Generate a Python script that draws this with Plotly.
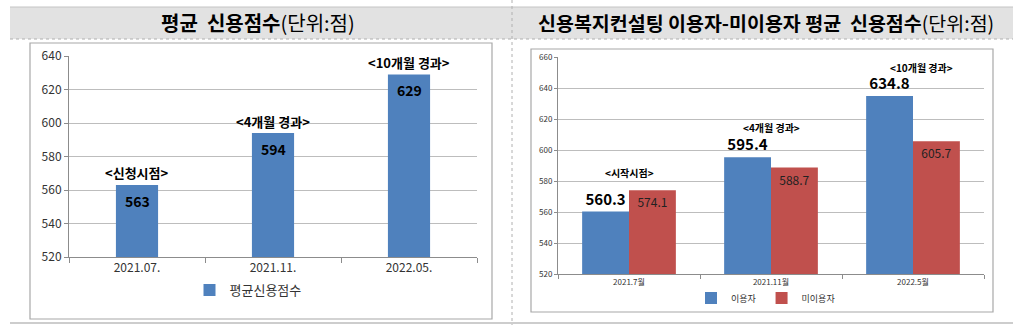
import plotly.graph_objects as go

# ---- data -------------------------------------------------------------
left_categories = ["2021.07.", "2021.11.", "2022.05."]
left_scores = [563, 594, 629]
left_notes = ["<신청시점>", "<4개월 경과>", "<10개월 경과>"]
left_series_name = "평균신용점수"

right_categories = ["2021.7월", "2021.11월", "2022.5월"]
users_scores = [560.3, 595.4, 634.8]
nonusers_scores = [574.1, 588.7, 605.7]
right_notes = ["<시작시점>", "<4개월 경과>", "<10개월 경과>"]
users_name = "이용자"
nonusers_name = "미이용자"

left_title = "<b>평균\u00a0\u00a0신용점수</b>(단위:점)"
right_title = "<b>신용복지컨설팅 이용자-미이용자 평균\u00a0\u00a0신용점수</b>(단위:점)"

# ---- page geometry helpers (pixels -> paper fractions) ----------------
W, H = 1024, 331


def px(x):
    return x / W


def py(y):
    return 1 - y / H


FONT = "Noto Sans CJK KR"
BLUE = "#4F81BD"
RED = "#C0504D"
GRID = "#bdbdbd"
AXIS = "#8c8c8c"
TXT = "#333333"

fig = go.Figure()

# left chart: single series
fig.add_trace(go.Bar(
    x=left_categories, y=left_scores, name=left_series_name,
    marker=dict(color=BLUE, line=dict(width=0)), width=0.31,
    xaxis="x", yaxis="y", legend="legend",
))

# right chart: users vs non-users
fig.add_trace(go.Bar(
    x=right_categories, y=users_scores, name=users_name,
    marker=dict(color=BLUE, line=dict(width=0)),
    text=[f"{v:.1f}" for v in users_scores], textposition="outside",
    textfont=dict(family=FONT, size=15, color="#000000", weight="bold"),
    constraintext="none", cliponaxis=False,
    xaxis="x2", yaxis="y2", legend="legend2",
))
fig.add_trace(go.Bar(
    x=right_categories, y=nonusers_scores, name=nonusers_name,
    marker=dict(color=RED, line=dict(width=0)),
    text=[f"{v:.1f}" for v in nonusers_scores], textposition="inside",
    insidetextanchor="end",
    insidetextfont=dict(family=FONT, size=12, color="#222222"),
    constraintext="none",
    xaxis="x2", yaxis="y2", legend="legend2",
))

annotations = []

# chart titles
annotations.append(dict(text=left_title, x=px(258), y=py(23), xref="paper", yref="paper",
                        xanchor="center", yanchor="middle", showarrow=False,
                        font=dict(family=FONT, size=20, color="#000000")))
annotations.append(dict(text=right_title, x=px(766), y=py(23), xref="paper", yref="paper",
                        xanchor="center", yanchor="middle", showarrow=False,
                        font=dict(family=FONT, size=19.5, color="#000000")))

# left chart: value inside bar top and period note above the bar
for cat, val, note in zip(left_categories, left_scores, left_notes):
    annotations.append(dict(text=f"<b>{val}</b>", x=cat, y=val, xref="x", yref="y",
                            yshift=-16, showarrow=False, xanchor="center", yanchor="middle",
                            font=dict(family=FONT, size=14, color="#000000")))
    annotations.append(dict(text=f"<b>{note}</b>", x=cat, y=val, xref="x", yref="y",
                            yshift=12, showarrow=False, xanchor="center", yanchor="middle",
                            font=dict(family=FONT, size=13, color="#000000")))

# right chart: period notes above each group
note_levels = [585.8, 614.8, 653.5]
note_shift = [0, 0, 8]
for cat, note, lvl, sh in zip(right_categories, right_notes, note_levels, note_shift):
    annotations.append(dict(text=f"<b>{note}</b>", x=cat, y=lvl, xref="x2", yref="y2",
                            xshift=sh, showarrow=False, xanchor="center", yanchor="middle",
                            font=dict(family=FONT, size=10, color="#000000")))

# decorative frame: title bands, separators, chart boxes
shapes = [
    dict(type="rect", xref="paper", yref="paper", x0=px(10), x1=px(1013), y0=py(39), y1=py(7),
         fillcolor="#e2e2e2", line=dict(width=0), layer="below"),
    dict(type="line", xref="paper", yref="paper", x0=px(10), x1=px(1013), y0=py(7), y1=py(7),
         line=dict(color="#c4c4c4", width=1)),
    dict(type="line", xref="paper", yref="paper", x0=px(10), x1=px(1013), y0=py(39), y1=py(39),
         line=dict(color="#b0b0b0", width=1, dash="dot")),
    dict(type="line", xref="paper", yref="paper", x0=px(512), x1=px(512), y0=py(0), y1=py(325),
         line=dict(color="#b0b0b0", width=1, dash="dot")),
    dict(type="line", xref="paper", yref="paper", x0=px(10), x1=px(1013), y0=py(323), y1=py(323),
         line=dict(color="#bdbdbd", width=1.5)),
    dict(type="rect", xref="paper", yref="paper", x0=px(30), x1=px(492), y0=py(319), y1=py(43),
         fillcolor="white", line=dict(color="#a8a8a8", width=1.2), layer="below"),
    dict(type="rect", xref="paper", yref="paper", x0=px(531), x1=px(993), y0=py(312), y1=py(49),
         fillcolor="white", line=dict(color="#a8a8a8", width=1.2), layer="below"),
]

fig.update_layout(
    width=W, height=H,
    autosize=False,
    margin=dict(l=0, r=0, t=0, b=0, pad=0, autoexpand=False),
    paper_bgcolor="white", plot_bgcolor="rgba(0,0,0,0)",
    font=dict(family=FONT, color=TXT),
    barmode="group", bargap=0.34, bargroupgap=0,
    showlegend=True,
    xaxis=dict(domain=[px(69), px(477)], anchor="y", type="category", automargin=False,
               showline=True, linecolor=AXIS, linewidth=1,
               ticks="outside", tickson="boundaries", ticklen=5, tickcolor=AXIS,
               showgrid=False, tickfont=dict(family=FONT, size=12, color=TXT)),
    yaxis=dict(domain=[py(257), py(56)], anchor="x", range=[520, 640], dtick=20, automargin=False,
               showgrid=True, gridcolor=GRID, gridwidth=1,
               showline=True, linecolor=AXIS, linewidth=1,
               ticks="outside", ticklen=4, tickcolor=AXIS, zeroline=False,
               tickfont=dict(family=FONT, size=12, color=TXT)),
    xaxis2=dict(domain=[px(558), px(984)], anchor="y2", type="category", automargin=False,
                showline=True, linecolor=AXIS, linewidth=1,
                ticks="outside", tickson="boundaries", ticklen=4, tickcolor=AXIS,
                showgrid=False, tickfont=dict(family=FONT, size=8, color=TXT)),
    yaxis2=dict(domain=[py(274), py(57)], anchor="x2", range=[520, 660], dtick=20, automargin=False,
                showgrid=True, gridcolor=GRID, gridwidth=1,
                showline=True, linecolor=AXIS, linewidth=1,
                ticks="outside", ticklen=3, tickcolor=AXIS, zeroline=False,
                tickfont=dict(family=FONT, size=8, color=TXT)),
    legend=dict(orientation="h", x=px(248), xanchor="center", y=py(290), yanchor="middle",
                bgcolor="rgba(0,0,0,0)", font=dict(family=FONT, size=13, color=TXT),
                itemwidth=30),
    legend2=dict(orientation="h", x=px(766), xanchor="center", y=py(298), yanchor="middle",
                 bgcolor="rgba(0,0,0,0)", font=dict(family=FONT, size=9, color=TXT),
                 itemwidth=30),
    annotations=annotations,
    shapes=shapes,
)

fig.write_html("out.html")
